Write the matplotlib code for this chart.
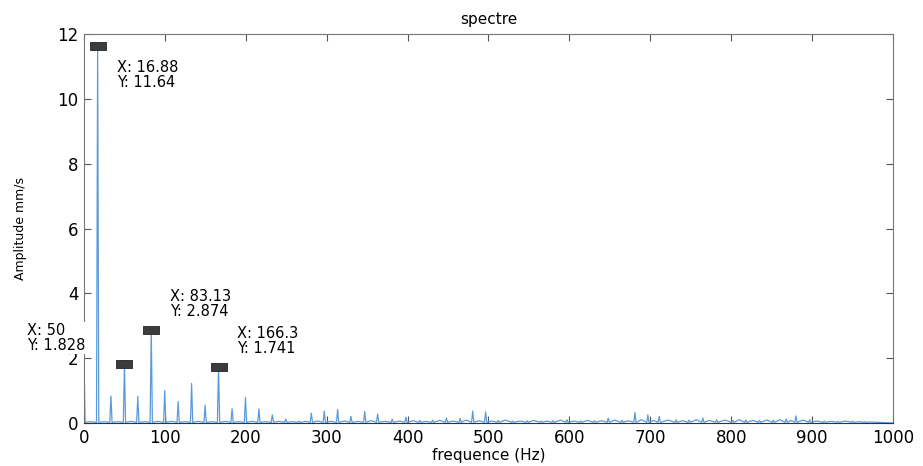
import numpy as np
import matplotlib.pyplot as plt
from matplotlib.path import Path

# harmonic peaks of the spectrum (Hz, mm/s)
peak_freq = [0, 16.88, 33.3, 50, 66.5, 83.13, 99.8, 116.4, 133, 149.7, 166.3,
             183, 199.6, 216.2, 232.8, 249.4, 266, 281, 297, 313.5, 330, 347,
             363, 381, 398, 415, 431, 448, 465, 480.5, 496.5, 512, 530, 548,
             565, 580, 597, 614, 631, 648, 665, 681, 697, 711, 732, 748, 765,
             782, 802, 818, 835, 852, 868, 880, 897, 915, 932, 950, 965, 980]
peak_amp = [1.9, 11.64, 0.83, 1.828, 0.82, 2.874, 1.0, 0.66, 1.22, 0.55, 1.741,
            0.44, 0.79, 0.43, 0.25, 0.12, 0.06, 0.30, 0.37, 0.42, 0.20, 0.35,
            0.28, 0.12, 0.18, 0.08, 0.09, 0.15, 0.14, 0.37, 0.34, 0.08, 0.06, 0.07,
            0.06, 0.07, 0.10, 0.06, 0.07, 0.15, 0.08, 0.32, 0.25, 0.20, 0.10, 0.09, 0.15,
            0.10, 0.08, 0.09, 0.08, 0.09, 0.12, 0.22, 0.10, 0.06, 0.05, 0.06, 0.04, 0.02]

# noise floor between the peaks
floor_freq = [8, 25, 42, 58, 75, 91, 108, 125, 141, 158, 175, 191, 208, 224, 241,
              258, 274, 289, 305, 322, 339, 355, 372, 390, 407, 423, 440, 456, 472,
              488, 504, 521, 539, 556, 572, 589, 606, 622, 640, 656, 673, 689, 704,
              722, 740, 757, 773, 792, 810, 827, 844, 860, 874, 889, 906, 924, 941,
              958, 972, 990, 1000]
floor_amp = [0.04, 0.04, 0.04, 0.05, 0.04, 0.05, 0.05, 0.04, 0.05, 0.04, 0.05,
             0.04, 0.05, 0.04, 0.05, 0.04, 0.05, 0.06, 0.05, 0.06, 0.05, 0.07,
             0.05, 0.06, 0.07, 0.05, 0.08, 0.06, 0.09, 0.07, 0.06, 0.09, 0.06,
             0.08, 0.06, 0.09, 0.06, 0.08, 0.07, 0.09, 0.07, 0.10, 0.08, 0.09,
             0.07, 0.10, 0.08, 0.09, 0.10, 0.08, 0.09, 0.10, 0.08, 0.09, 0.06,
             0.05, 0.06, 0.04, 0.03, 0.01, 0.0]

# data tips: (x, y) and text anchor (Hz, mm/s)
tip_x = [16.88, 50, 83.13, 166.3]
tip_y = [11.64, 1.828, 2.874, 1.741]
tip_tx = [40.8, -70.5, 106.3, 189]
tip_ty = [11.2, 3.08, 4.13, 2.99]

pf = np.array(peak_freq)
pa = np.array(peak_amp)
sh = 1.4
base = 0.02
fx = np.concatenate([floor_freq, pf, pf[1:] - sh, pf + sh])
fy = np.concatenate([floor_amp, pa, np.full(len(pf) - 1, base), np.full(len(pf), base)])
order = np.argsort(fx, kind="stable")
fx, fy = fx[order], fy[order]

fig = plt.figure(figsize=(9.23, 4.66), dpi=100)
ax = fig.add_axes([0.091, 0.0923, 0.8765, 0.8347])

ax.plot(fx, fy, color="#5a9bdb", lw=0.9)

# flat rectangle marker for the data tips
rect = Path([(-1, -0.55), (1, -0.55), (1, 0.55), (-1, 0.55), (-1, -0.55)],
            [Path.MOVETO, Path.LINETO, Path.LINETO, Path.LINETO, Path.CLOSEPOLY])
ax.plot(tip_x, tip_y, ls="none", marker=rect, markersize=11,
        markerfacecolor="#3c3c3c", markeredgecolor="#222222", mew=0.6, clip_on=False)
for x, y, tx, ty in zip(tip_x, tip_y, tip_tx, tip_ty):
    ax.text(tx, ty, f"X: {x:g}\nY: {y:g}", fontsize=10.5, va="top", ha="left",
            linespacing=1.0, clip_on=False, zorder=5,
            bbox=dict(facecolor="white", edgecolor="none", pad=0.5))

ax.set_xlim(0, 1000)
ax.set_ylim(0, 12)
ax.set_xticks(np.arange(0, 1001, 100))
ax.set_yticks(np.arange(0, 13, 2))
ax.tick_params(direction="in", top=True, right=True, labelsize=12, length=5,
               color="#555555", pad=4)
for s in ax.spines.values():
    s.set_color("#777777")
    s.set_linewidth(0.8)
ax.spines["bottom"].set_color("#333333")

ax.set_title("spectre", fontsize=11, pad=7)
ax.set_xlabel("frequence (Hz)", fontsize=11, labelpad=1)
ax.set_ylabel("Amplitude mm/s", fontsize=9, labelpad=22)

fig.savefig("out.png", dpi=100)
